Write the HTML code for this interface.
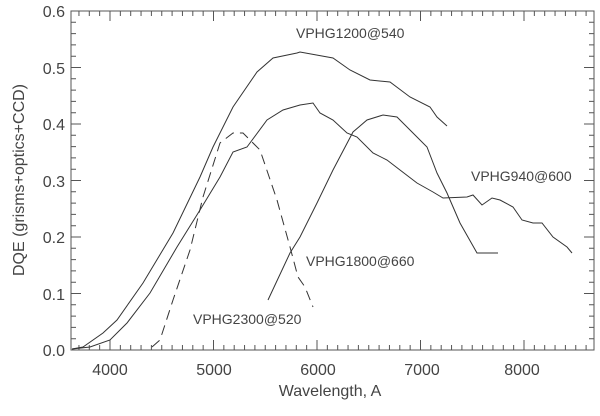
<!DOCTYPE html>
<html><head><style>body{margin:0;background:#fff}</style></head><body>
<svg width="600" height="411" xmlns="http://www.w3.org/2000/svg" font-family="Liberation Sans, sans-serif" fill="none" stroke="#333" stroke-width="1">
<rect x="71" y="11" width="523" height="339" stroke="#555"/>
<g stroke="#555">
<path d="M78.95 350v-5m10.35 5v-5m10.35 5v-5m10.35 5v-5m10.35 5v-5m10.35 5v-5m10.35 5v-5m10.35 5v-5m10.35 5v-5m10.35 5v-5m10.35 5v-5m10.35 5v-5m10.35 5v-5m10.35 5v-5m10.35 5v-5m10.35 5v-5m10.35 5v-5m10.35 5v-5m10.35 5v-5m10.35 5v-5m10.35 5v-5m10.35 5v-5m10.35 5v-5m10.35 5v-5m10.35 5v-5m10.35 5v-5m10.35 5v-5m10.35 5v-5m10.35 5v-5m10.35 5v-5m10.35 5v-5m10.35 5v-5m10.35 5v-5m10.35 5v-5m10.35 5v-5m10.35 5v-5m10.35 5v-5m10.35 5v-5m10.35 5v-5m10.35 5v-5m10.35 5v-5m10.35 5v-5m10.35 5v-5m10.35 5v-5m10.35 5v-5m10.35 5v-5m10.35 5v-5m10.35 5v-5m10.35 5v-5m10.35 5v-5"/>
<path d="M78.95 11v5m10.35 -5v5m10.35 -5v5m10.35 -5v5m10.35 -5v5m10.35 -5v5m10.35 -5v5m10.35 -5v5m10.35 -5v5m10.35 -5v5m10.35 -5v5m10.35 -5v5m10.35 -5v5m10.35 -5v5m10.35 -5v5m10.35 -5v5m10.35 -5v5m10.35 -5v5m10.35 -5v5m10.35 -5v5m10.35 -5v5m10.35 -5v5m10.35 -5v5m10.35 -5v5m10.35 -5v5m10.35 -5v5m10.35 -5v5m10.35 -5v5m10.35 -5v5m10.35 -5v5m10.35 -5v5m10.35 -5v5m10.35 -5v5m10.35 -5v5m10.35 -5v5m10.35 -5v5m10.35 -5v5m10.35 -5v5m10.35 -5v5m10.35 -5v5m10.35 -5v5m10.35 -5v5m10.35 -5v5m10.35 -5v5m10.35 -5v5m10.35 -5v5m10.35 -5v5m10.35 -5v5m10.35 -5v5m10.35 -5v5"/>
<path d="M110 350v-10M213.5 350v-10M317 350v-10M420.5 350v-10M524 350v-10M110 11v10M213.5 11v10M317 11v10M420.5 11v10M524 11v10"/>
<path d="M71 350h5m-5 -11.3h5m-5 -11.3h5m-5 -11.3h5m-5 -11.3h5m-5 -11.3h5m-5 -11.3h5m-5 -11.3h5m-5 -11.3h5m-5 -11.3h5m-5 -11.3h5m-5 -11.3h5m-5 -11.3h5m-5 -11.3h5m-5 -11.3h5m-5 -11.3h5m-5 -11.3h5m-5 -11.3h5m-5 -11.3h5m-5 -11.3h5m-5 -11.3h5m-5 -11.3h5m-5 -11.3h5m-5 -11.3h5m-5 -11.3h5m-5 -11.3h5m-5 -11.3h5m-5 -11.3h5m-5 -11.3h5m-5 -11.3h5"/>
<path d="M594 350h-5m5 -11.3h-5m5 -11.3h-5m5 -11.3h-5m5 -11.3h-5m5 -11.3h-5m5 -11.3h-5m5 -11.3h-5m5 -11.3h-5m5 -11.3h-5m5 -11.3h-5m5 -11.3h-5m5 -11.3h-5m5 -11.3h-5m5 -11.3h-5m5 -11.3h-5m5 -11.3h-5m5 -11.3h-5m5 -11.3h-5m5 -11.3h-5m5 -11.3h-5m5 -11.3h-5m5 -11.3h-5m5 -11.3h-5m5 -11.3h-5m5 -11.3h-5m5 -11.3h-5m5 -11.3h-5m5 -11.3h-5m5 -11.3h-5m5 -11.3h-5"/>
<path d="M71 293.5h10M71 237h10M71 180.5h10M71 124h10M71 67.5h10M594 293.5h-10M594 237h-10M594 180.5h-10M594 124h-10M594 67.5h-10"/>
</g>
<g fill="#444" stroke="none" font-size="16">
<text x="110" y="375" text-anchor="middle">4000</text>
<text x="214" y="375" text-anchor="middle">5000</text>
<text x="318" y="375" text-anchor="middle">6000</text>
<text x="422" y="375" text-anchor="middle">7000</text>
<text x="522" y="375" text-anchor="middle">8000</text>
<g text-anchor="end">
<text x="65" y="356">0.0</text><text x="65" y="300">0.1</text><text x="65" y="243">0.2</text>
<text x="65" y="187">0.3</text><text x="65" y="130">0.4</text><text x="65" y="74">0.5</text><text x="65" y="17">0.6</text></g>
<text x="330" y="396" text-anchor="middle">Wavelength, A</text>
<text transform="translate(24,180) rotate(-90)" text-anchor="middle">DQE (grisms+optics+CCD)</text>
<g font-size="14"><text x="296" y="38">VPHG1200@540</text><text x="471" y="181">VPHG940@600</text>
<text x="306" y="266">VPHG1800@660</text><text x="193" y="324">VPHG2300@520</text></g>
</g>
<polyline points="72,349 83,347 103,333 117,320 143,283 173,233 200,177 213,147 233,107 257,72 273,58 297,53 300,52 333,58 350,70 370,80 390,82 410,97 430,107 437,117 447,126"/>
<polyline points="72,349 90,347 110,340 127,323 150,293 177,247 200,210 220,177 233,152 247,147 267,120 283,110 300,105 313,103 320,113 333,120 347,133 357,137 373,153 387,160 400,170 417,183 433,192 443,198 467,197 473,195 482,205 492,198 500,200 513,207 522,220 533,223 542,223 553,237 567,247 572,253"/>
<polyline points="268,300 290,253 300,237 317,203 333,170 353,132 367,120 383,115 397,117 410,130 427,147 437,173 447,193 460,223 477,253 498,253"/>
<polyline stroke-dasharray="10,6" points="152,347 160,340 173,300 190,250 203,197 220,143 233,133 243,133 260,150 277,200 290,247 298,277 305,287 313,307"/>
</svg>
</body></html>
